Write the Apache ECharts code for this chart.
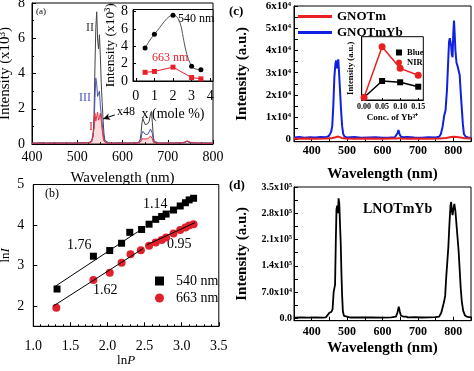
<!DOCTYPE html>
<html><head><meta charset="utf-8">
<script src="https://cdn.jsdelivr.net/npm/echarts@6/dist/echarts.min.js"></script>
<style>html,body{margin:0;padding:0;background:#fff}#c{width:474px;height:371px}</style>
</head><body><div id="c"></div><script>
// ---------- Panel (a): upconversion spectra ----------
const aWave = [400,410,420,430,440,450,460,470,480,490,500,510,520,527,532,535,537,539,541,543,545,547,549,551,553,555,557,559,561,565,570,580,590,600,610,620,630,636,639,641,643,645,647,650,653,656,659,662,664,666,668,670,673,680,690,700,710,720,730,736,740,743,746,750,760,770,780,790,800];
const aCurveII = [0.06,0.04,0.07,0.05,0.06,0.04,0.07,0.05,0.06,0.05,0.07,0.06,0.08,0.1,0.2,0.4,1.6,4.2,6.6,7.5,5.9,5.4,6.2,5.0,3.5,2.4,1.4,0.6,0.2,0.09,0.06,0.05,0.07,0.05,0.06,0.05,0.07,0.1,0.25,0.6,1.2,1.45,1.3,1.1,1.05,1.15,1.3,1.7,1.85,1.2,0.45,0.15,0.08,0.06,0.05,0.06,0.05,0.07,0.06,0.08,0.12,0.16,0.12,0.08,0.06,0.05,0.06,0.05,0.06];
const aCurveIII = [0.05,0.06,0.04,0.06,0.05,0.07,0.05,0.06,0.04,0.06,0.05,0.07,0.07,0.09,0.15,0.25,0.9,2.5,3.75,3.4,2.7,2.8,3.0,2.2,1.7,1.2,0.7,0.3,0.12,0.07,0.05,0.06,0.05,0.07,0.05,0.06,0.06,0.08,0.15,0.3,0.6,0.72,0.65,0.55,0.5,0.55,0.65,0.85,0.92,0.6,0.22,0.09,0.06,0.05,0.06,0.05,0.06,0.05,0.07,0.08,0.11,0.14,0.1,0.07,0.05,0.06,0.05,0.06,0.05];
const aCurveI = [0.04,0.05,0.06,0.04,0.05,0.06,0.04,0.05,0.06,0.04,0.05,0.06,0.07,0.08,0.12,0.2,0.9,1.75,1.3,1.4,1.8,1.35,1.5,1.75,1.3,0.8,0.4,0.15,0.08,0.06,0.05,0.04,0.06,0.05,0.04,0.06,0.05,0.07,0.1,0.15,0.3,0.38,0.33,0.28,0.27,0.3,0.35,0.45,0.5,0.3,0.1,0.06,0.05,0.04,0.05,0.06,0.05,0.06,0.07,0.1,0.15,0.18,0.15,0.1,0.06,0.05,0.04,0.05,0.04];
const aArrow = [[583,1.65],[557,1.42]];
const aTicksX = [400,500,600,700,800];
// inset (a)
const aInsetX = [0.5,1,2,3,3.5];
const aInset540 = [3.8,5.4,7.6,1.7,1.3];
const aInset663 = [1.0,1.1,1.6,0.4,0.25];
const aInsetTicksX = [0,1,2,3,4];
const aInsetTicksY = [0,2,4,6,8];

// ---------- Panel (b): ln I vs ln P ----------
const bLnP540 = [1.32,1.81,2.03,2.19,2.30,2.46,2.56,2.65,2.73,2.79,2.89,2.98,3.05,3.10,3.16];
const bLnI540 = [2.42,3.23,3.37,3.55,3.82,3.89,4.02,4.14,4.21,4.27,4.37,4.47,4.55,4.62,4.66];
const bLnP663 = [1.31,1.81,2.03,2.19,2.31,2.45,2.56,2.65,2.73,2.79,2.89,2.98,3.05,3.10,3.16];
const bLnI663 = [1.96,2.64,2.82,3.07,3.28,3.38,3.49,3.57,3.63,3.69,3.79,3.88,3.94,3.99,4.02];
const bFit540Low = [[1.29,2.48],[2.48,3.92]];
const bFit540High = [[2.53,4.02],[3.18,4.70]];
const bFit663Low = [[1.27,2.00],[2.48,3.42]];
const bFit663High = [[2.53,3.51],[3.18,4.06]];
const bTicksY = [2,3,4,5];

// ---------- Panel (c): GNOTm / GNOTmYb ----------
const cWaveRed = [350,380,410,440,455,465,470,475,480,485,495,520,560,600,630,640,646,652,670,700,730,760,780,790,800,810,820,835,850];
const cGNOTm = [300,400,300,400,500,900,1200,1300,1100,700,400,300,400,300,400,400,600,400,300,400,300,400,700,1000,1200,1100,900,500,400];
const cWaveBlue = [350,365,380,395,410,425,440,448,452,455,458,461,464,467,469,471,473,475,477,480,483,486,489,493,500,520,540,560,580,600,620,635,640,643,645,648,652,660,670,690,710,730,750,760,765,770,774,778,782,785,788,790,792,794,796,798,800,802,804,806,809,812,815,818,821,824,827,830,835,842,850];
const cGNOTmYb = [900,1100,800,1000,900,1100,1000,1500,2500,3500,6000,15000,28000,34000,35500,32000,34500,36000,31000,22000,13000,6000,2500,1200,900,1100,800,900,1000,800,900,1000,1800,3000,4300,2500,1200,1000,1100,900,800,1000,900,1200,2500,6000,10500,13000,22000,33000,44000,45500,44000,42000,38000,37000,48000,53500,47000,40000,34500,33000,33500,29000,21000,14000,7000,2500,1200,900,800];
const cTicksY = [0,10000,20000,30000,40000,50000,60000];
// inset (c)
const cInsetConc = [0,0.05,0.10,0.15];
const cInsetBlue = [0.04,0.30,0.28,0.21];
const cInsetNIR = [0.04,0.84,0.50,0.39];
const cInsetTicksX = [0,0.05,0.10,0.15];

// ---------- Panel (d): LNOTmYb ----------
const dWave = [350,370,390,410,430,440,445,450,453,456,459,462,464,466,468,470,472,474,476,478,480,482,484,486,488,491,495,510,540,570,600,625,638,642,646,649,652,658,663,666,672,690,710,730,750,760,766,770,774,777,780,783,786,789,792,794,796,798,800,803,806,809,812,815,818,821,824,828,833,840,850];
const dLNOTmYb = [2000,2500,2000,2500,2000,3000,5000,15000,20000,18000,25000,70000,75000,90000,200000,290000,300000,280000,320000,305000,250000,200000,120000,60000,20000,7000,3000,2500,3000,2500,2000,3000,5000,15000,31000,18000,8000,5000,8000,5000,3000,3500,2500,3000,3500,5000,15000,30000,45000,60000,110000,150000,190000,250000,300000,310000,285000,275000,290000,305000,285000,250000,215000,180000,130000,80000,45000,20000,8000,4000,3000];
const dTicksY = [0,70000,140000,210000,280000,350000];
const cdTicksX = [400,500,600,700,800];

// ---------- build ----------
const FONT = 'Liberation Serif';
const pairs = (xs, ys) => xs.map((x, i) => [x, ys[i]]);
const chart = echarts.init(document.getElementById('c'), null, {renderer: 'canvas'});

function axis(o) {
  const base = {
    type: 'value', scale: false,
    axisLine: {show: true, onZero: false, lineStyle: {color: '#000', width: 1}},
    axisTick: {show: true, inside: true, length: 4, lineStyle: {color: '#000', width: 1}},
    splitLine: {show: false},
    axisLabel: {color: '#000', fontFamily: FONT, fontSize: 12},
    nameLocation: 'middle',
    nameTextStyle: {color: '#000', fontFamily: FONT, fontSize: 13}
  };
  const r = Object.assign({}, base, o);
  r.axisTick = Object.assign({}, base.axisTick, o.axisTick || {});
  r.axisLabel = Object.assign({}, base.axisLabel, o.axisLabel || {});
  r.nameTextStyle = Object.assign({}, base.nameTextStyle, o.nameTextStyle || {});
  return r;
}
const box = {show: true, borderColor: '#000', borderWidth: 1, backgroundColor: 'transparent', outerBoundsMode: 'none', containLabel: false};

const boldLbl = {fontWeight: 'bold'};

const option = {
  animation: false,
  backgroundColor: '#fff',
  grid: [
    Object.assign({}, box, {left: 32, top: 3, width: 181, height: 141}),
    Object.assign({}, box, {left: 133, top: 9.5, width: 80, height: 71.5, backgroundColor: '#fff'}),
    Object.assign({}, box, {left: 33.3, top: 184.5, width: 185.5, height: 141.8}),
    Object.assign({}, box, {left: 294, top: 6, width: 177, height: 135.7}),
    Object.assign({}, box, {left: 361.7, top: 36.7, width: 61.6, height: 63.3, backgroundColor: '#fff'}),
    Object.assign({}, box, {left: 294, top: 187, width: 177, height: 133.7})
  ],
  xAxis: [
    axis({gridIndex: 0, min: 400, max: 800, interval: 100,
      minorTick: {show: true, splitNumber: 4, length: 2, lineStyle: {color: '#000'}},
      axisLabel: {margin: 6, fontSize: 14, customValues: aTicksX},
      name: 'Wavelength (nm)', nameGap: 27, nameTextStyle: {fontSize: 15}}),
    axis({gridIndex: 1, min: -0.15, max: 4.15,
      axisTick: {customValues: aInsetTicksX, length: 3},
      axisLabel: {margin: 8, customValues: aInsetTicksX, fontSize: 14},
      name: 'x (mole %)', nameGap: 26, nameTextStyle: {fontSize: 14}}),
    axis({gridIndex: 2, min: 1, max: 3.5, interval: 0.5,
      minorTick: {show: true, splitNumber: 5, length: 2, lineStyle: {color: '#000'}},
      axisLabel: {margin: 13, fontSize: 14, formatter: v => v.toFixed(1)},
      name: '{a|ln}{b|P}', nameGap: 25,
      nameTextStyle: {rich: {a: {fontFamily: FONT, fontSize: 13, color: '#000'}, b: {fontFamily: FONT, fontSize: 13, fontStyle: 'italic', color: '#000'}}}}),
    axis({gridIndex: 3, min: 350, max: 850, interval: 50,
      axisLabel: Object.assign({margin: 3, fontSize: 12, customValues: cdTicksX}, boldLbl),
      name: 'Wavelength (nm)', nameGap: 25, nameTextStyle: {fontSize: 15, fontWeight: 'bold'}}),
    axis({gridIndex: 4, min: -0.0064, max: 0.164,
      axisTick: {customValues: cInsetTicksX, length: 2},
      axisLabel: Object.assign({margin: 3, fontSize: 8, customValues: cInsetTicksX, formatter: v => v.toFixed(2)}, boldLbl),
      name: 'Conc. of Yb³⁺', nameGap: 13, nameTextStyle: {fontSize: 9, fontWeight: 'bold'}}),
    axis({gridIndex: 5, min: 350, max: 850, interval: 50,
      axisLabel: Object.assign({margin: 5, fontSize: 12, customValues: cdTicksX}, boldLbl),
      name: 'Wavelength (nm)', nameGap: 20, nameTextStyle: {fontSize: 15, fontWeight: 'bold'}})
  ],
  yAxis: [
    axis({gridIndex: 0, min: 0, max: 8, interval: 2,
      minorTick: {show: true, splitNumber: 2, length: 2, lineStyle: {color: '#000'}},
      axisLabel: {margin: 7, fontSize: 14},
      name: 'Intensity (x10³)', nameGap: 19, nameTextStyle: {fontSize: 15}}),
    axis({gridIndex: 1, min: 0, max: 8.25,
      axisTick: {customValues: aInsetTicksY, length: 3},
      axisLabel: {margin: 5, customValues: aInsetTicksY, fontSize: 14},
      name: 'Intensity (x10³)', nameGap: 16, nameTextStyle: {fontSize: 13.5}}),
    axis({gridIndex: 2, min: 1.5, max: 5,
      axisTick: {customValues: bTicksY},
      axisLabel: {margin: 9, fontSize: 14, customValues: bTicksY},
      name: '{a|ln}{b|I}', nameGap: 21,
      nameTextStyle: {rich: {a: {fontFamily: FONT, fontSize: 13, color: '#000'}, b: {fontFamily: FONT, fontSize: 13, fontStyle: 'italic', color: '#000'}}}}),
    axis({gridIndex: 3, min: -1000, max: 60000,
      axisTick: {customValues: [0,5000,10000,15000,20000,25000,30000,35000,40000,45000,50000,55000,60000]},
      axisLabel: Object.assign({margin: 3, fontSize: 11, customValues: cTicksY,
        formatter: v => v === 0 ? '0' : (v / 10000) + 'x10⁴'}, boldLbl),
      name: 'Intensity (a.u.)', nameGap: 44, nameTextStyle: {fontSize: 15, fontWeight: 'bold'}}),
    axis({gridIndex: 4, min: 0, max: 1,
      axisTick: {show: false}, axisLabel: {show: false},
      name: 'Intensity (a.u.)', nameGap: 6, nameTextStyle: {fontSize: 8.5, fontWeight: 'bold'}}),
    axis({gridIndex: 5, min: -6000, max: 350000,
      axisTick: {customValues: [0,35000,70000,105000,140000,175000,210000,245000,280000,315000,350000]},
      axisLabel: Object.assign({margin: 2, fontSize: 10, customValues: dTicksY,
        formatter: v => v === 0 ? '0.0' : (v < 100000 ? (v / 10000).toFixed(1) + 'x10⁴' : (v / 100000).toFixed(1) + 'x10⁵')}, boldLbl),
      name: 'Intensity (a.u.)', nameGap: 44, nameTextStyle: {fontSize: 15, fontWeight: 'bold'}})
  ],
  legend: [
    {data: ['GNOTm', 'GNOTmYb'], left: 293, top: 5, orient: 'vertical', icon: 'rect',
      itemWidth: 34, itemHeight: 3, itemGap: 3, selectedMode: false,
      textStyle: {fontFamily: FONT, fontSize: 13, fontWeight: 'bold', color: '#000'}},
    {data: [{name: '540 nm', icon: 'rect'}, {name: '663 nm', icon: 'circle'}], left: 150, top: 269, orient: 'vertical',
      itemWidth: 9, itemHeight: 9, itemGap: 3, selectedMode: false,
      textStyle: {fontFamily: FONT, fontSize: 14, color: '#000', padding: [0, 0, 0, 7]}},
    {data: [{name: 'Blue', icon: 'rect'}, {name: 'NIR', icon: 'circle'}], left: 391, top: 43, orient: 'vertical',
      itemWidth: 6, itemHeight: 6, itemGap: 1, selectedMode: false,
      textStyle: {fontFamily: FONT, fontSize: 8.5, fontWeight: 'bold', color: '#000'}}
  ],
  series: [
    {name: 'II', type: 'line', xAxisIndex: 0, yAxisIndex: 0, data: pairs(aWave, aCurveII), showSymbol: false,
      lineStyle: {color: '#444', width: 1}, itemStyle: {color: '#444'}},
    {name: 'III', type: 'line', xAxisIndex: 0, yAxisIndex: 0, data: pairs(aWave, aCurveIII), showSymbol: false,
      lineStyle: {color: '#4a56b8', width: 1}, itemStyle: {color: '#4a56b8'}},
    {name: 'I', type: 'line', xAxisIndex: 0, yAxisIndex: 0, data: pairs(aWave, aCurveI), showSymbol: false,
      lineStyle: {color: '#e8323c', width: 1}, itemStyle: {color: '#e8323c'},
      areaStyle: {color: 'rgba(240,110,120,0.35)', origin: 'start'},
      markLine: {silent: true, symbol: ['none', 'arrow'], symbolSize: [5, 7], label: {show: false},
        lineStyle: {color: '#000', width: 1, type: 'solid'},
        data: [[{coord: aArrow[0]}, {coord: aArrow[1]}]]}},
    {name: 'ins540', type: 'line', xAxisIndex: 1, yAxisIndex: 1, data: pairs(aInsetX, aInset540), smooth: 0.45,
      symbol: 'circle', symbolSize: 5, lineStyle: {color: '#555', width: 1}, itemStyle: {color: '#000'}},
    {name: 'ins663', type: 'line', xAxisIndex: 1, yAxisIndex: 1, data: pairs(aInsetX, aInset663),
      symbol: 'rect', symbolSize: 5, lineStyle: {color: '#e8202a', width: 1}, itemStyle: {color: '#e8202a'}},
    {name: 'fit1', type: 'line', xAxisIndex: 2, yAxisIndex: 2, data: bFit540Low, showSymbol: false, lineStyle: {color: '#000', width: 1}},
    {name: 'fit2', type: 'line', xAxisIndex: 2, yAxisIndex: 2, data: bFit540High, showSymbol: false, lineStyle: {color: '#000', width: 1}},
    {name: 'fit3', type: 'line', xAxisIndex: 2, yAxisIndex: 2, data: bFit663Low, showSymbol: false, lineStyle: {color: '#000', width: 1}},
    {name: 'fit4', type: 'line', xAxisIndex: 2, yAxisIndex: 2, data: bFit663High, showSymbol: false, lineStyle: {color: '#000', width: 1}},
    {name: '540 nm', type: 'scatter', xAxisIndex: 2, yAxisIndex: 2, data: pairs(bLnP540, bLnI540),
      symbol: 'rect', symbolSize: 7, itemStyle: {color: '#000', opacity: 1}},
    {name: '663 nm', type: 'scatter', xAxisIndex: 2, yAxisIndex: 2, data: pairs(bLnP663, bLnI663),
      symbol: 'circle', symbolSize: 8, itemStyle: {color: '#e0202a', opacity: 1}},
    {name: 'GNOTmYb', type: 'line', xAxisIndex: 3, yAxisIndex: 3, data: pairs(cWaveBlue, cGNOTmYb), showSymbol: false,
      lineStyle: {color: '#1020e0', width: 2}, itemStyle: {color: '#1020e0'}},
    {name: 'GNOTm', type: 'line', xAxisIndex: 3, yAxisIndex: 3, data: pairs(cWaveRed, cGNOTm), showSymbol: false,
      lineStyle: {color: '#e82020', width: 2}, itemStyle: {color: '#e82020'}},
    {name: 'Blue', type: 'line', xAxisIndex: 4, yAxisIndex: 4, data: pairs(cInsetConc, cInsetBlue),
      symbol: 'rect', symbolSize: 6, lineStyle: {color: '#000', width: 1.5}, itemStyle: {color: '#000'}},
    {name: 'NIR', type: 'line', xAxisIndex: 4, yAxisIndex: 4, data: pairs(cInsetConc, cInsetNIR),
      symbol: 'circle', symbolSize: 7, lineStyle: {color: '#e82020', width: 1.5}, itemStyle: {color: '#e82020'}},
    {name: 'LNOTmYb', type: 'line', xAxisIndex: 5, yAxisIndex: 5, data: pairs(dWave, dLNOTmYb), showSymbol: false,
      lineStyle: {color: '#000', width: 1.8}, itemStyle: {color: '#000'}}
  ],
  graphic: [
    {type: 'text', left: 36, top: 7, style: {text: '(a)', fontFamily: FONT, fontSize: 9, fill: '#000'}},
    {type: 'text', left: 86, top: 22, style: {text: 'II', fontFamily: FONT, fontSize: 12, fill: '#333'}},
    {type: 'text', left: 79, top: 92, style: {text: 'III', fontFamily: FONT, fontSize: 12, fill: '#4a56b8'}},
    {type: 'text', left: 89, top: 121, style: {text: 'I', fontFamily: FONT, fontSize: 12, fill: '#e8323c'}},
    {type: 'text', left: 117, top: 106, style: {text: 'x48', fontFamily: FONT, fontSize: 12, fill: '#000'}},
    {type: 'text', left: 178, top: 13, style: {text: '540 nm', fontFamily: FONT, fontSize: 12, fill: '#000'}},
    {type: 'text', left: 152, top: 52, style: {text: '663 nm', fontFamily: FONT, fontSize: 12, fill: '#e8202a'}},
    {type: 'text', left: 45, top: 188, style: {text: '(b)', fontFamily: FONT, fontSize: 12, fill: '#000'}},
    {type: 'text', left: 67, top: 238, style: {text: '1.76', fontFamily: FONT, fontSize: 14, fill: '#000'}},
    {type: 'text', left: 143, top: 197, style: {text: '1.14', fontFamily: FONT, fontSize: 14, fill: '#000'}},
    {type: 'text', left: 93, top: 283, style: {text: '1.62', fontFamily: FONT, fontSize: 14, fill: '#000'}},
    {type: 'text', left: 167, top: 237, style: {text: '0.95', fontFamily: FONT, fontSize: 14, fill: '#000'}},
    {type: 'text', left: 229, top: 5, style: {text: '(c)', fontFamily: FONT, fontSize: 13, fontWeight: 'bold', fill: '#000'}},
    {type: 'text', left: 229, top: 179, style: {text: '(d)', fontFamily: FONT, fontSize: 13, fontWeight: 'bold', fill: '#000'}},
    {type: 'text', left: 363, top: 202, style: {text: 'LNOTmYb', fontFamily: FONT, fontSize: 14, fontWeight: 'bold', fill: '#000'}}
  ]
};
chart.setOption(option);
</script></body></html>
